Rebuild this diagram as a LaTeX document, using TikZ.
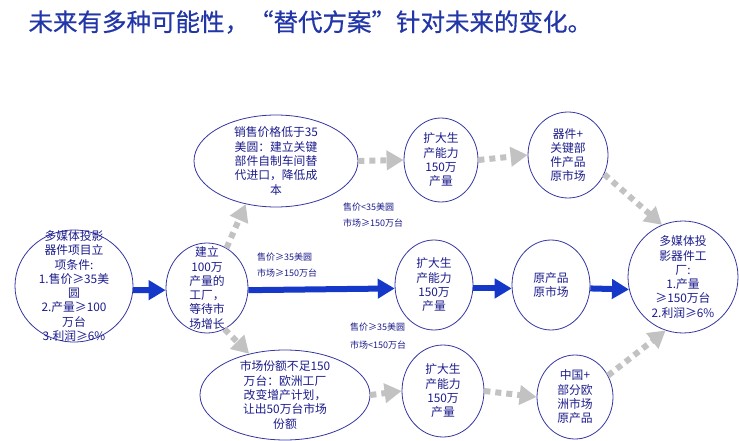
\documentclass[tikz,border=0pt]{standalone}
\usepackage{fontspec}
\setmainfont{Noto Sans CJK SC}
\usetikzlibrary{shapes.geometric,arrows.meta}
\definecolor{titleblue}{HTML}{2236A8}
\definecolor{txtblue}{HTML}{1C1C8C}
\definecolor{ringblue}{HTML}{3535A2}
\definecolor{arrowblue}{HTML}{1538C8}
\definecolor{arrowgray}{HTML}{C2C2C2}
\begin{document}
\begin{tikzpicture}[x=1pt,y=-1pt,
    bub/.style={draw=ringblue, line width=0.8pt, ellipse, inner sep=0pt},
    txt/.style={text=txtblue, align=center, inner sep=0pt, font=\fontsize{11.8}{14.3}\selectfont},
    lab/.style={text=txtblue, anchor=west, inner sep=0pt, font=\fontsize{9}{11}\selectfont},
    mainarrow/.style={draw=arrowblue, line width=6pt, -{Triangle[length=17pt,width=19pt]}},
    altarrow/.style={draw=arrowgray, line width=6pt, dash pattern=on 6pt off 5pt, -{Triangle[length=17pt,width=19pt]}}]
    \useasboundingbox (0,0) rectangle (739,441);
    \node[anchor=west, text=titleblue, font=\fontsize{24.5}{28}\selectfont\addfontfeature{FakeBold=0.6}] (title) at (25,22) {未来有多种可能性，“替代方案”针对未来的变化。};
    % ellipses
    \node[bub, minimum width=118pt, minimum height=112pt] (A) at (74,286) {};
    \node[bub, minimum width=82pt, minimum height=90pt] (B) at (207,288) {};
    \node[bub, minimum width=164pt, minimum height=92pt] (C) at (276,161) {};
    \node[bub, minimum width=74pt, minimum height=84pt] (D) at (441,160) {};
    \node[bub, minimum width=80pt, minimum height=86pt] (E) at (568,155) {};
    \node[bub, minimum width=78pt, minimum height=90pt] (F) at (434,285) {};
    \node[bub, minimum width=78pt, minimum height=90pt] (G) at (551,285) {};
    \node[bub, minimum width=110pt, minimum height=112pt] (H) at (683,277) {};
    \node[bub, minimum width=170pt, minimum height=90pt] (I) at (285,395) {};
    \node[bub, minimum width=82pt, minimum height=92pt] (J) at (443,391) {};
    \node[bub, minimum width=76pt, minimum height=84pt] (K) at (575,397) {};
    % texts
    \node[txt] (A-t) at (A) {多媒体投影\\器件项目立\\项条件:\\1.售价≥35美\\圆\\2.产量≥100\\万台\\3.利润≥6\%};
    \node[txt] (B-t) at (B) {建立\\100万\\产量的\\工厂，\\等待市\\场增长};
    \node[txt] (C-t) at (C) {销售价格低于35\\美圆：建立关键\\部件自制车间替\\代进口，降低成\\本};
    \node[txt] (D-t) at (D) {扩大生\\产能力\\150万\\产量};
    \node[txt] (E-t) at (E) {器件+\\关键部\\件产品\\原市场};
    \node[txt] (F-t) at (F) {扩大生\\产能力\\150万\\产量};
    \node[txt] (G-t) at (G) {原产品\\原市场};
    \node[txt] (H-t) at (H) {多媒体投\\影器件工\\厂:\\1.产量\\≥150万台\\2.利润≥6\%};
    \node[txt] (I-t) at (I) {市场份额不足150\\万台：欧洲工厂\\改变增产计划，\\让出50万台市场\\份额};
    \node[txt] (J-t) at (J) {扩大生\\产能力\\150万\\产量};
    \node[txt] (K-t) at (K) {中国+\\部分欧\\洲市场\\原产品};
    % arrows
    \draw[mainarrow] (A.-4) -- (B.183);
    \draw[mainarrow] (B.-3) -- (F.185);
    \draw[mainarrow] (F.-5) -- (G.185);
    \draw[mainarrow] (G.-5) -- (H.193);
    \draw[altarrow] (B.64) -- (C.235);
    \draw[altarrow] (C.east) -- (D.west);
    \draw[altarrow] (D.east) -- (E.west);
    \draw[altarrow] (E.332) -- (H.112);
    \draw[altarrow] (B.293) -- (I.131);
    \draw[altarrow] (I.east) -- (J.west);
    \draw[altarrow] (J.east) -- (K.west);
    \draw[altarrow] (K.33) -- (H.252);
    % labels
    \node[lab] (up1) at (343,207) {售价<35美圆};
    \node[lab] (up2) at (343,223) {市场≥150万台};
    \node[lab] (mid1) at (257,257) {售价≥35美圆};
    \node[lab] (mid2) at (257,273) {市场≥150万台};
    \node[lab] (low1) at (350,327) {售价≥35美圆};
    \node[lab] (low2) at (350,345) {市场<150万台};
\end{tikzpicture}
\end{document}
